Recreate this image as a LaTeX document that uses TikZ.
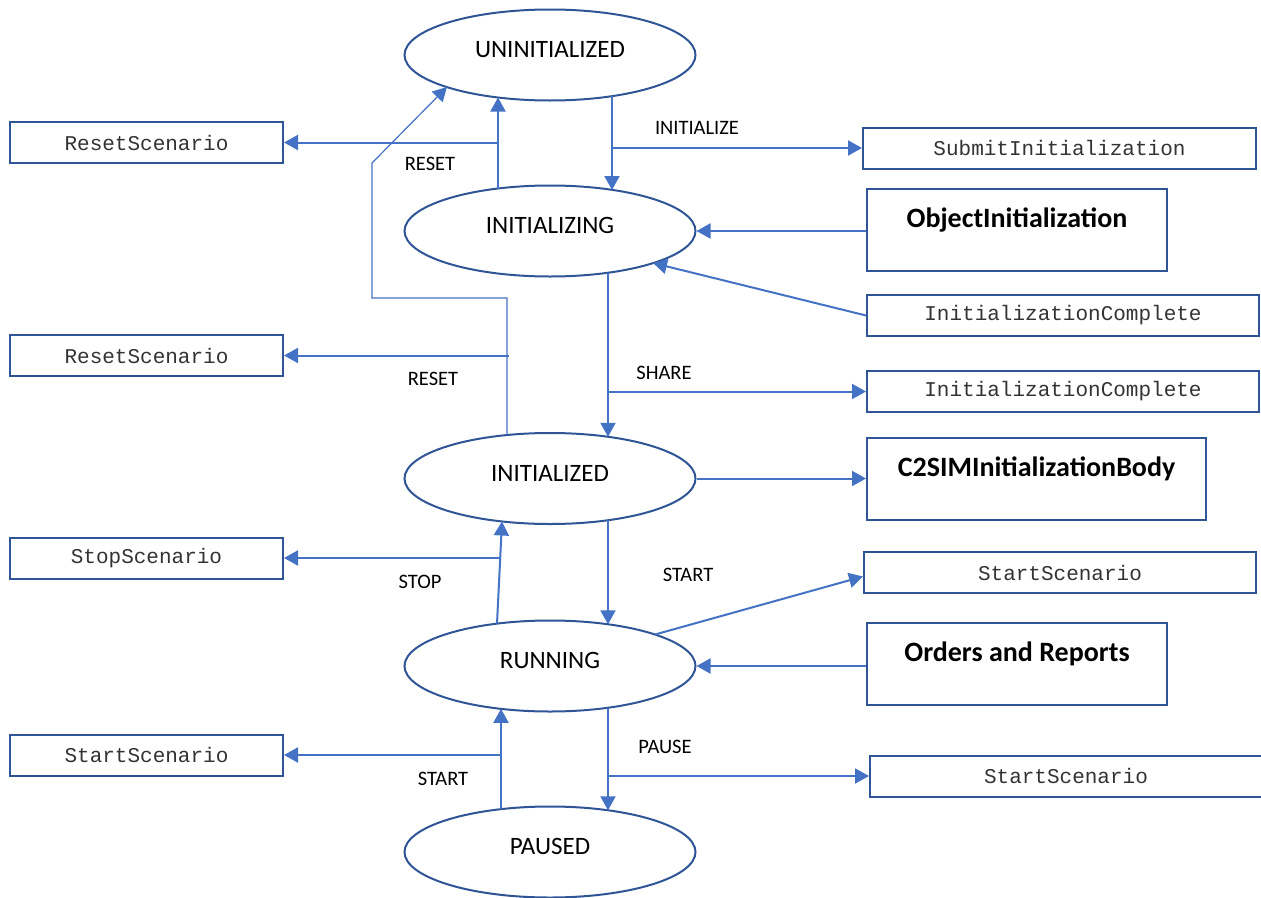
\documentclass[tikz,border=0pt]{standalone}
\usepackage{fontspec}
\setmainfont{Carlito}
\newfontfamily\codefont{Liberation Mono}
\usetikzlibrary{shapes.geometric,arrows.meta,calc}

\definecolor{edgeblue}{HTML}{2F5597}
\definecolor{linkblue}{HTML}{4472C4}

\begin{document}
\begin{tikzpicture}[x=1pt,y=-1pt,
  stnode/.style={ellipse, draw=edgeblue, line width=2pt, fill=white,
    minimum width=291pt, minimum height=91pt, inner sep=0pt,
    font=\fontsize{25}{28}\selectfont, text depth=12pt, text height=17pt},
  msgbox/.style={draw=edgeblue, line width=2pt, minimum height=41pt,
    inner sep=0pt, text=black!80, font=\codefont\fontsize{21}{24}\selectfont},
  bodybox/.style={draw=edgeblue, line width=2pt, inner sep=0pt, anchor=base,
    font=\bfseries\fontsize{28}{30}\selectfont, text height=38pt, text depth=44pt},
  arr/.style={draw=linkblue, line width=2pt, -{Triangle[length=14pt,width=15pt]}},
  thinarr/.style={draw=linkblue, line width=1.2pt, -{Triangle[length=14pt,width=15pt]}},
  lbl/.style={font=\fontsize{20.5}{24}\selectfont, inner sep=0pt}]

\useasboundingbox (0,0) rectangle (1261,897);
\clip (0,0) rectangle (1261,897);

% states
\node[stnode] (uninit)  at (550,55)    {UNINITIALIZED};
\node[stnode] (initing) at (550,231)   {INITIALIZING};
\node[stnode] (inited)  at (550,478.5) {INITIALIZED};
\node[stnode] (running) at (550,666)   {RUNNING};
\node[stnode] (paused)  at (550,852)   {PAUSED};

% message boxes on the left
\node[msgbox, minimum width=273pt] (resetA) at (146.5,142.5) {ResetScenario};
\node[msgbox, minimum width=273pt] (resetB) at (146.5,355.5) {ResetScenario};
\node[msgbox, minimum width=273pt] (stopL)  at (146.5,558)   {StopScenario};
\node[msgbox, minimum width=273pt] (startL) at (146.5,755)   {StartScenario};

% message boxes on the right
\node[msgbox, minimum width=393pt] (submit) at (1059.5,148)  {SubmitInitialization};
\node[msgbox, minimum width=392pt] (icompA) at (1063,315.5)  {InitializationComplete};
\node[msgbox, minimum width=392pt] (icompB) at (1063,391.5)  {InitializationComplete};
\node[msgbox, minimum width=392pt] (startA) at (1060,572.5)  {StartScenario};
\node[msgbox, minimum width=392pt] (startB) at (1066,776)    {StartScenario};

% body boxes
\node[bodybox, minimum width=300pt] (objinit) at (1017,227)   {ObjectInitialization};
\node[bodybox, minimum width=339pt] (c2sim)   at (1036.5,476) {C2SIMInitializationBody};
\node[bodybox, minimum width=300pt] (orders)  at (1017,661)   {Orders and Reports};

% UNINITIALIZED <-> INITIALIZING
\draw[arr] ($(initing.center)+(-52,-42.5)$) -- ($(uninit.center)+(-52,42.5)$);
\coordinate (rstA) at (498,142.5);
\draw[arr] (rstA) -- (resetA.east);
\node[lbl] (lreset1) at (430,164) {RESET};

\draw[arr] ($(uninit.center)+(62,41)$) -- ($(initing.center)+(62,-41)$);
\coordinate (iniA) at (612,148);
\draw[arr] (iniA) -- (submit.west);
\node[lbl] (linit) at (697,128) {INITIALIZE};

\draw[arr] (objinit.west |- initing.east) -- (initing.east);
\draw[arr] (icompA.west) -- ($(initing.center)+(103,32)$);

% INITIALIZED back to UNINITIALIZED
\draw[thinarr] ($(inited.center)+(-43,-43.5)$) -- (507,298) -- (372,298) -- (372,163)
  -- ($(uninit.center)+(-103,32)$);
\coordinate (rstB) at (509,355.5);
\draw[arr] (rstB) -- (resetB.east);
\node[lbl] (lreset2) at (433,379) {RESET};

% INITIALIZING -> INITIALIZED
\draw[arr] ($(initing.center)+(58,41.7)$) -- ($(inited.center)+(58,-41.7)$);
\coordinate (shr) at (608,391.5);
\draw[arr] (shr) -- (icompB.west);
\node[lbl] (lshare) at (664,373) {SHARE};

\draw[arr] (inited.east) -- (c2sim.west |- inited.east);

% RUNNING <-> INITIALIZED
\draw[arr] ($(running.center)+(-53,-42.4)$) -- ($(inited.center)+(-48,43)$);
\coordinate (stp) at (500,558);
\draw[arr] (stp) -- (stopL.east);
\node[lbl] (lstop) at (420,582) {STOP};

\draw[arr] ($(inited.center)+(58,41.7)$) -- ($(running.center)+(58,-41.7)$);
\node[lbl] (lstart1) at (688,575) {START};
\draw[arr] ($(running.center)+(105,-31.5)$) -- ($(startA.west)+(0,4)$);

\draw[arr] (orders.west |- running.east) -- (running.east);

% PAUSED <-> RUNNING
\draw[arr] ($(paused.center)+(-49,-42.8)$) -- ($(running.center)+(-49,42.8)$);
\coordinate (stt) at (501,755);
\draw[arr] (stt) -- (startL.east);
\node[lbl] (lstart2) at (443,779) {START};

\draw[arr] ($(running.center)+(58,41.7)$) -- ($(paused.center)+(58,-41.7)$);
\coordinate (pse) at (608,776);
\draw[arr] (pse) -- (startB.west);
\node[lbl] (lpause) at (665,747) {PAUSE};

\end{tikzpicture}
\end{document}
